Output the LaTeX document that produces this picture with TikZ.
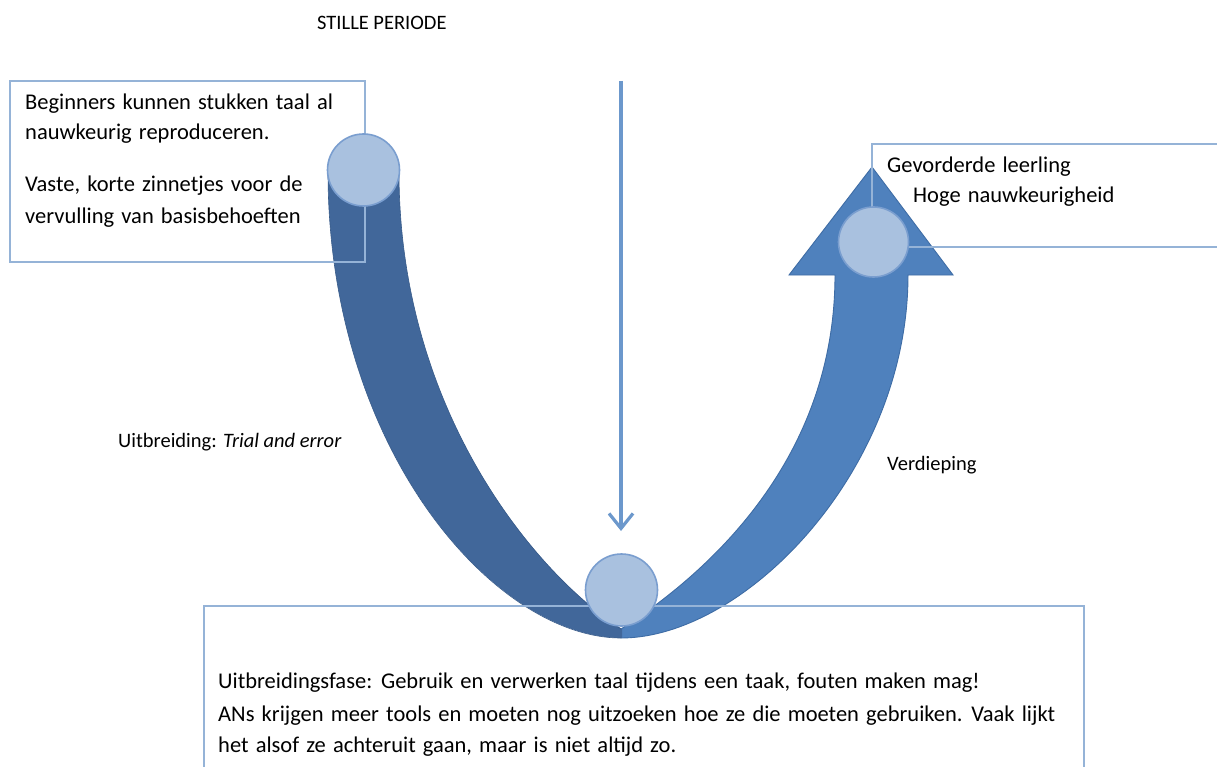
\documentclass[tikz,border=0pt]{standalone}
\usepackage{fontspec}
\setmainfont{Carlito}
\newfontfamily\widefont[WordSpace=1.4]{Carlito}
\usetikzlibrary{arrows.meta}
\definecolor{darkarm}{HTML}{41679A}
\definecolor{darkedge}{HTML}{395C8A}
\definecolor{lightarm}{HTML}{4F81BD}
\definecolor{lightedge}{HTML}{3E6CA5}
\definecolor{circfill}{HTML}{A9C1DF}
\definecolor{circedge}{HTML}{7A9ECF}
\definecolor{boxedge}{HTML}{95B3D7}
\definecolor{vline}{HTML}{6C98CC}
\tikzset{
  big/.style={inner sep=0pt, anchor=base west, font=\widefont\fontsize{22.5}{27}\selectfont},
  small/.style={inner sep=0pt, anchor=base west, font=\fontsize{20.5}{25}\selectfont},
  circ/.style={circle, inner sep=0pt, fill=circfill, draw=circedge, line width=1.6pt},
  boxline/.style={draw=boxedge, line width=1.1pt},
}
\begin{document}
\begin{tikzpicture}[x=1pt,y=-1pt]
\useasboundingbox (0,0) rectangle (1217,767);
\fill[white] (0,0) rectangle (1217,767);

% right (light) arm with arrow head
\filldraw[fill=lightarm, draw=lightedge, line width=0.9pt]
  (621,638) .. controls (745,638) and (908,470) .. (908,275)
  -- (953,275) -- (872,167) -- (789,275) -- (835,275)
  .. controls (835,462) and (705,575) .. (621,629)
  -- cycle;

% left (dark) arm
\fill[darkarm]
  (328,172) .. controls (328,450) and (495,638) .. (622,638)
  -- (622,629)
  .. controls (537,575) and (399,412) .. (399,172)
  -- cycle;
\draw[darkedge, line width=0.6pt]
  (328,172) .. controls (328,450) and (495,638) .. (621,638);
\draw[darkedge, line width=0.6pt]
  (621,629) .. controls (537,575) and (399,412) .. (399,172);

% text boxes (outlines over the arms)
\draw[boxline] (10,81) rectangle (365,262);
\draw[boxline] (1217,144) -- (872,144) -- (872,247) -- (1217,247);
\draw[boxline] (204,767) -- (204,606) -- (1084,606) -- (1084,767);

% vertical arrow
\coordinate (vtop) at (621,81);
\coordinate (vtip) at (621,531);
\draw[vline, line width=3.2pt, -{Straight Barb[length=15pt,width=24pt]}] (vtop) -- (vtip);

% circles
\node[circ, minimum size=72pt] (cstart) at (363.5,170) {};
\node[circ, minimum size=70pt] (cend) at (873.5,242) {};
\node[circ, minimum size=72pt] (cmid) at (621.5,590) {};

% labels
\node[small] (stille) at (317,30) {STILLE PERIODE};
\node[small] (uitbr) at (118,447) {Uitbreiding: \textit{Trial and error}};
\node[small] (verd) at (887,470) {Verdieping};

\node[big] (l1) at (25,110) {Beginners kunnen stukken taal al};
\node[big] (l2) at (25,140) {nauwkeurig reproduceren.};
\node[big] (l3) at (25,192) {Vaste, korte zinnetjes voor de};
\node[big] (l4) at (25,224) {vervulling van basisbehoeften};

\node[big] (r1) at (887,173) {Gevorderde leerling};
\node[big] (r2) at (913,203) {Hoge nauwkeurigheid};

\node[big] (b1) at (218,688) {Uitbreidingsfase: Gebruik en verwerken taal tijdens een taak, fouten maken mag!};
\node[big] (b2) at (218,721) {ANs krijgen meer tools en moeten nog uitzoeken hoe ze die moeten gebruiken. Vaak lijkt};
\node[big] (b3) at (218,752) {het alsof ze achteruit gaan, maar is niet altijd zo.};
\end{tikzpicture}
\end{document}
